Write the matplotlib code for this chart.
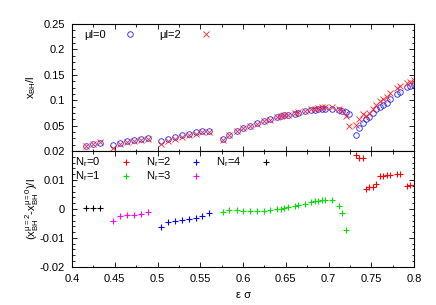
import matplotlib
matplotlib.use('Agg')
import matplotlib.pyplot as plt
from matplotlib.ticker import AutoMinorLocator, FormatStrFormatter
from matplotlib.lines import Line2D

plt.rcParams['font.family'] = ['Liberation Sans', 'DejaVu Sans']
plt.rcParams['mathtext.fontset'] = 'custom'
plt.rcParams['mathtext.rm'] = 'Liberation Sans'
plt.rcParams['mathtext.it'] = 'Liberation Sans:italic'
plt.rcParams['font.size'] = 8

# Datos por grupo de N_r: eps*sigma, x_BH/l (mu l = 0), diferencia (mu=2 - mu=0)
x_n4 = [0.4164, 0.4245, 0.4327]
y0_n4 = [0.0104, 0.0144, 0.0163]
d_n4 = [0.0002, 0.0003, 0.0004]

x_n3 = [0.4476, 0.4561, 0.4647, 0.4725, 0.4803, 0.4889]
y0_n3 = [0.0108, 0.0155, 0.0194, 0.0214, 0.0233, 0.0246]
d_n3 = [-0.0042, -0.0025, -0.0020, -0.0020, -0.0019, -0.0012]

x_n2 = [0.5045, 0.5126, 0.5205, 0.5287, 0.5365, 0.5447, 0.5524, 0.5606]
y0_n2 = [0.0197, 0.0240, 0.0279, 0.0317, 0.0344, 0.0367, 0.0392, 0.0398]
d_n2 = [-0.0061, -0.0046, -0.0040, -0.0038, -0.0034, -0.0031, -0.0025, -0.0015]

x_n1 = [0.5763, 0.5840, 0.5926, 0.6004, 0.6082, 0.6160, 0.6242, 0.6319,
        0.6401, 0.6441, 0.6483, 0.6523, 0.6605, 0.6643, 0.6722, 0.6799,
        0.6846, 0.6881, 0.6920, 0.6959, 0.7041, 0.7119, 0.7158, 0.7201, 0.7243]
y0_n1 = [0.0230, 0.0315, 0.0391, 0.0450, 0.0498, 0.0545, 0.0588, 0.0624,
         0.0663, 0.0686, 0.0703, 0.0712, 0.0734, 0.0751, 0.0778, 0.0801,
         0.0807, 0.0820, 0.0827, 0.0827, 0.0827, 0.0815, 0.0794, 0.0765, 0.0730]
d_n1 = [-0.0011, -0.0005, -0.0005, -0.0006, -0.0006, -0.0006, -0.0006, -0.0005,
        0.0000, 0.0001, 0.0003, 0.0006, 0.0009, 0.0013, 0.0018, 0.0023,
        0.0027, 0.0029, 0.0030, 0.0031, 0.0030, 0.0011, -0.0014, -0.0072, -0.0235]

x_n0 = [0.7322, 0.7360, 0.7400, 0.7439, 0.7477, 0.7517, 0.7559, 0.7602,
        0.7641, 0.7681, 0.7719, 0.7798, 0.7836, 0.7915, 0.7953, 0.7992]
y0_n0 = [0.0321, 0.0446, 0.0545, 0.0624, 0.0676, 0.0755, 0.0820, 0.0860,
         0.0912, 0.0951, 0.1017, 0.1122, 0.1168, 0.1253, 0.1280, 0.1306]
d_n0 = [0.0185, 0.0175, 0.0175, 0.0068, 0.0077, 0.0077, 0.0085, 0.0115,
        0.0115, 0.0116, 0.0116, 0.0120, 0.0120, 0.0079, 0.0083, 0.0084]

grupos = [
    ('N$_\\mathrm{r}$=0', '#ff0000', x_n0, y0_n0, d_n0),
    ('N$_\\mathrm{r}$=1', '#00e000', x_n1, y0_n1, d_n1),
    ('N$_\\mathrm{r}$=2', '#0000ff', x_n2, y0_n2, d_n2),
    ('N$_\\mathrm{r}$=3', '#ff00ff', x_n3, y0_n3, d_n3),
    ('N$_\\mathrm{r}$=4', '#000000', x_n4, y0_n4, d_n4),
]

fig = plt.figure(figsize=(4.36, 3.05), dpi=100)
ax1 = fig.add_axes([0.165, 0.505, 0.785, 0.416])
ax2 = fig.add_axes([0.165, 0.125, 0.785, 0.38], sharex=ax1)

# Panel superior
for lab, col, xs, y0, d in grupos:
    y2 = [a + b for a, b in zip(y0, d)]
    ax1.plot(xs, y0, 'o', mfc='none', mec='#2020ff', ms=4, mew=0.6)
    ax1.plot(xs, y2, 'x', color='#ff2020', ms=4, mew=0.6)

h_top = [Line2D([], [], ls='none', marker='o', mfc='none', mec='#2020ff', ms=4, mew=0.6),
         Line2D([], [], ls='none', marker='x', color='#ff2020', ms=4, mew=0.6)]
ax1.legend(h_top, ['\u03bcl=0', '\u03bcl=2'], ncol=2, markerfirst=False, frameon=False,
           loc='upper left', bbox_to_anchor=(0.035, 0.955), borderaxespad=0, borderpad=0,
           handlelength=2, handletextpad=1.2, columnspacing=1.65, fontsize=8)

ax1.set_ylim(0, 0.25)
ax1.set_yticks([0.05, 0.1, 0.15, 0.2, 0.25])
ax1.yaxis.set_major_formatter(FormatStrFormatter('%g'))
ax1.set_ylabel('x$_\\mathrm{BH}$/l')
ax1.yaxis.set_label_coords(-0.10, 0.5)
ax1.tick_params(labelbottom=False)

# Panel inferior
for lab, col, xs, y0, d in grupos:
    ax2.plot(xs, d, '+', color=col, ms=4.5, mew=0.8, label=lab)

ax2.legend(ncol=3, markerfirst=False, frameon=False, loc='upper left',
           bbox_to_anchor=(0.01, 0.96), borderaxespad=0, borderpad=0,
           handlelength=2, handletextpad=1.25, columnspacing=0.8,
           labelspacing=0.0, fontsize=8)

ax2.set_ylim(-0.02, 0.02)
ax2.set_yticks([-0.02, -0.01, 0, 0.01, 0.02])
ax2.yaxis.set_major_formatter(FormatStrFormatter('%g'))
ax2.set_ylabel('(x$_\\mathrm{BH}^\\mathrm{\\mu=2}$-x$_\\mathrm{BH}^\\mathrm{\\mu=0}$)/l')
ax2.yaxis.set_label_coords(-0.09, 0.5)

ax2.set_xlim(0.4, 0.8)
ax2.set_xticks([0.4, 0.45, 0.5, 0.55, 0.6, 0.65, 0.7, 0.75, 0.8])
ax2.xaxis.set_major_formatter(FormatStrFormatter('%g'))
ax2.set_xlabel('\u03b5 \u03c3')
ax2.xaxis.set_label_coords(0.5, -0.2)

ax1.yaxis.set_minor_locator(AutoMinorLocator(4))
ax2.yaxis.set_minor_locator(AutoMinorLocator(5))
ax2.xaxis.set_minor_locator(AutoMinorLocator(2))

for ax in (ax1, ax2):
    ax.tick_params(which='both', direction='in', top=True, right=True, width=0.6)
    ax.tick_params(which='major', length=3.5, pad=5)
    ax.tick_params(which='minor', length=1.8)
    for s in ax.spines.values():
        s.set_linewidth(0.8)

fig.savefig('out.png', dpi=100)
